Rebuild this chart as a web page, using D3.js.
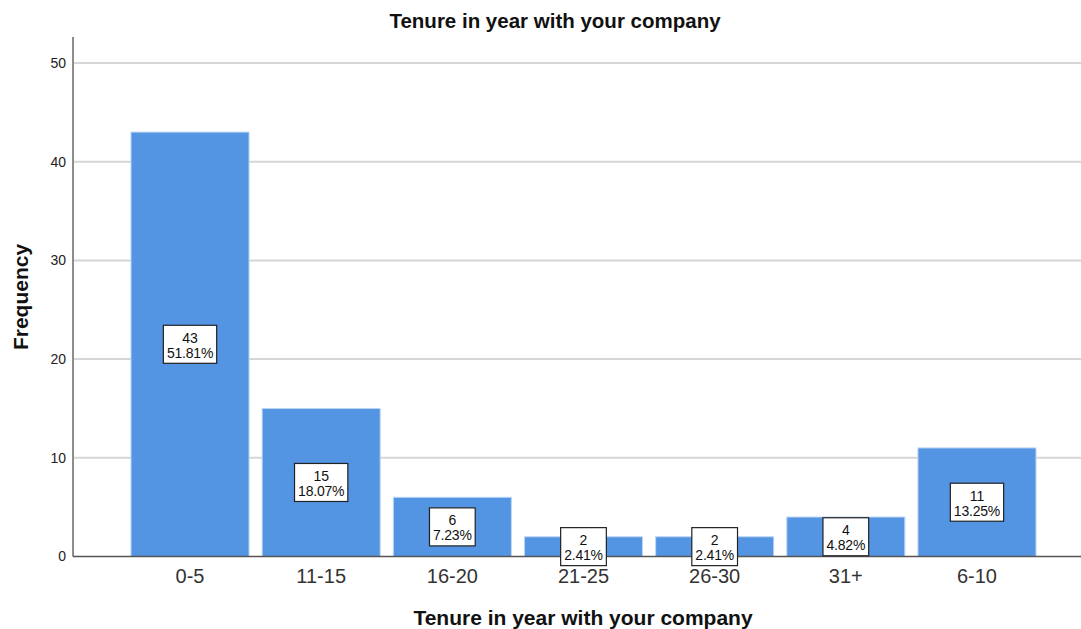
<!DOCTYPE html>
<html>
<head>
<meta charset="utf-8">
<script src="https://cdn.jsdelivr.net/npm/d3@7"></script>
<style>
  body { margin: 0; background: #fff; }
  svg { font-family: "Liberation Sans", Arial, sans-serif; display: block; }
</style>
</head>
<body>
<div class="bar-chart"></div>
<script>
// tenure categories, in the order they show on the x axis
const categories = ['0-5', '11-15', '16-20', '21-25', '26-30', '31+', '6-10'];
const counts = [43, 15, 6, 2, 2, 4, 11];
const percents = ['51.81%', '18.07%', '7.23%', '2.41%', '2.41%', '4.82%', '13.25%'];
const yTicks = [0, 10, 20, 30, 40, 50];

const data = categories.map((c, i) => ({cat: c, n: counts[i], pct: percents[i]}));

const outerWidth = 1081;
const outerHeight = 629;

const svg = d3.select('.bar-chart')
    .append('svg')
    .attr('width', outerWidth)
    .attr('height', outerHeight);

const axisX = 73;     // left axis position
const plotRight = 1081;
const plotTop = 37;

const xScale = d3.scaleBand()
    .domain(categories)
    .range([131, 1036])
    .paddingInner(0.1)
    .paddingOuter(0);

const yScale = d3.scaleLinear()
    .domain([0, 50])
    .range([556.5, 63]);

// gridlines
svg.append('g')
    .selectAll('line')
    .data(yTicks.filter(d => d > 0))
    .enter()
    .append('line')
    .attr('x1', axisX)
    .attr('x2', plotRight)
    .attr('y1', d => yScale(d))
    .attr('y2', d => yScale(d))
    .attr('stroke', '#d6d6d6')
    .attr('stroke-width', 2);

// y axis
const yAxis = d3.axisLeft(yScale)
    .tickValues(yTicks)
    .tickSize(0)
    .tickPadding(7);

const yg = svg.append('g')
    .attr('transform', `translate(${axisX},0)`)
    .call(yAxis);
yg.select('.domain').remove();
yg.selectAll('text')
    .attr('font-size', '14px')
    .attr('font-family', '"Liberation Sans", Arial, sans-serif')
    .attr('fill', '#222');

svg.append('line')
    .attr('x1', axisX).attr('x2', axisX)
    .attr('y1', plotTop).attr('y2', yScale(0))
    .attr('stroke', '#8c8c8c')
    .attr('stroke-width', 2);

// bars
svg.selectAll('rect.bar')
    .data(data)
    .enter()
    .append('rect')
    .attr('class', 'bar')
    .attr('x', d => xScale(d.cat))
    .attr('y', d => yScale(d.n))
    .attr('width', xScale.bandwidth())
    .attr('height', d => yScale(0) - yScale(d.n))
    .attr('fill', '#5394e3')
    .attr('stroke', '#bcd6f4')
    .attr('stroke-width', 1);

// baseline
svg.append('line')
    .attr('x1', axisX).attr('x2', plotRight)
    .attr('y1', yScale(0)).attr('y2', yScale(0))
    .attr('stroke', '#555')
    .attr('stroke-width', 1.5);

// x axis labels
const xAxis = d3.axisBottom(xScale).tickSize(0).tickPadding(12);
const xg = svg.append('g')
    .attr('transform', `translate(0,${yScale(0)})`)
    .call(xAxis);
xg.select('.domain').remove();
xg.selectAll('text')
    .attr('font-size', '20px')
    .attr('font-family', '"Liberation Sans", Arial, sans-serif')
    .attr('fill', '#333');

// value labels in boxes
const labels = svg.selectAll('g.lbl')
    .data(data)
    .enter()
    .append('g')
    .attr('class', 'lbl')
    .attr('transform', d => `translate(${xScale(d.cat) + xScale.bandwidth() / 2},${(yScale(d.n) + yScale(0)) / 2})`);

labels.each(function(d) {
    const g = d3.select(this);
    const box = g.append('rect');
    const t1 = g.append('text')
        .attr('text-anchor', 'middle')
        .attr('y', -1.5)
        .attr('font-size', '14px')
        .attr('fill', '#111')
        .text(d.n);
    const t2 = g.append('text')
        .attr('text-anchor', 'middle')
        .attr('y', 13.5)
        .attr('font-size', '14px')
        .attr('letter-spacing', '-0.2px')
        .attr('fill', '#111')
        .text(d.pct);
    const w = Math.max(t1.node().getComputedTextLength(), t2.node().getComputedTextLength()) + 7;
    box.attr('x', -w / 2)
        .attr('y', -19)
        .attr('width', w)
        .attr('height', 38)
        .attr('fill', '#fff')
        .attr('stroke', '#222')
        .attr('stroke-width', 1.2);
});

// titles
svg.append('text')
    .attr('x', 555)
    .attr('y', 28)
    .attr('text-anchor', 'middle')
    .attr('font-size', '20.5px')
    .attr('font-weight', 'bold')
    .attr('fill', '#111')
    .text('Tenure in year with your company');

svg.append('text')
    .attr('x', 583)
    .attr('y', 625)
    .attr('text-anchor', 'middle')
    .attr('font-size', '21px')
    .attr('font-weight', 'bold')
    .attr('fill', '#111')
    .text('Tenure in year with your company');

svg.append('text')
    .attr('transform', 'translate(28,297) rotate(-90)')
    .attr('text-anchor', 'middle')
    .attr('font-size', '21px')
    .attr('font-weight', 'bold')
    .attr('fill', '#111')
    .text('Frequency');
</script>
</body>
</html>
